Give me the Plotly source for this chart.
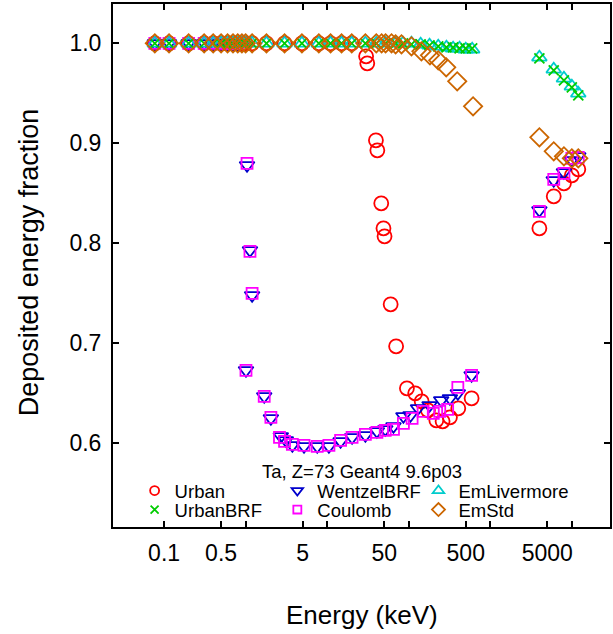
import plotly.graph_objects as go

# ---------------- data ----------------
E_low = [0.077, 0.115, 0.2, 0.31, 0.4, 0.5, 0.6, 0.7, 0.8, 0.9, 1.0, 1.2,
         1.8, 3.0, 4.9, 7.9, 11, 15, 20]
E_high = [4000, 6000, 8000, 10000, 12000]

urban_E = E_low + [30, 31, 39.6, 41.2, 46, 49, 50.5, 60, 70, 95, 120, 144, 172,
                   218, 260, 320, 405, 590] + E_high
urban_v = [1.0] * 19 + [0.987, 0.980, 0.903, 0.893, 0.840, 0.815, 0.807, 0.739,
                        0.697, 0.655, 0.650, 0.642, 0.633, 0.623, 0.622, 0.626,
                        0.635, 0.645] + [0.815, 0.847, 0.860, 0.868, 0.874]

urbanbrf_E = E_low + [29.4, 40, 52, 69, 85, 108, 140, 180, 230, 290, 350, 420,
                      500, 600] + E_high
urbanbrf_v = [1.0] * 19 + [1.0, 1.0, 1.0, 1.0, 1.0, 0.999, 0.999, 0.998, 0.997,
                           0.996, 0.996, 0.995, 0.995, 0.995] + \
             [0.985, 0.973, 0.963, 0.956, 0.948]

wentzel_E = [0.077, 0.115, 0.2, 0.31, 0.4, 0.5, 0.6, 0.7, 0.8,
             1.04, 1.13, 1.20, 1.01, 1.69, 2.04, 2.70, 3.11, 3.74, 5.2, 7.55,
             10.5, 14.6, 20.2, 29.4, 40.7, 51.5, 65, 86, 105, 130, 180, 250,
             320, 400, 590] + E_high
wentzel_v = [1.0] * 9 + [0.878, 0.793, 0.748, 0.673, 0.647, 0.625, 0.607,
                         0.603, 0.598, 0.597, 0.597, 0.597, 0.602, 0.606, 0.608,
                         0.612, 0.614, 0.617, 0.627, 0.628, 0.635, 0.638, 0.643,
                         0.645, 0.650, 0.668] + [0.833, 0.863, 0.871, 0.883, 0.887]

coulomb_E = [0.077, 0.115, 0.2, 0.31, 0.4, 0.5, 0.6, 0.7, 0.8,
             1.04, 1.13, 1.20, 1.01, 1.69, 2.04, 2.6, 3.0, 3.74, 5.2, 7.55,
             10.5, 14.6, 20.2, 29.4, 40.7, 51.5, 65, 86, 110, 150, 200, 240,
             300, 400, 590] + E_high
coulomb_v = [1.0] * 9 + [0.880, 0.792, 0.750, 0.673, 0.647, 0.626, 0.606,
                         0.602, 0.599, 0.598, 0.597, 0.598, 0.603, 0.606, 0.609,
                         0.611, 0.613, 0.614, 0.620, 0.625, 0.632, 0.630, 0.632,
                         0.634, 0.656, 0.668] + [0.832, 0.864, 0.870, 0.885, 0.886]

emliv_E = urbanbrf_E
emliv_v = [1.0] * 19 + [1.0, 1.0, 1.0, 1.0, 1.0, 1.0, 0.999, 0.998, 0.997,
                        0.996, 0.995, 0.995, 0.994, 0.994] + \
          [0.986, 0.974, 0.965, 0.957, 0.950]

emstd_E = E_low + [29.4, 40, 46.5, 52, 61.5, 69, 81.5, 108, 143, 182, 230, 288,
                   393, 615] + E_high
emstd_v = [1.0] * 19 + [1.0, 1.0, 1.0, 1.0, 1.0, 0.999, 0.999, 0.997, 0.992,
                        0.988, 0.983, 0.976, 0.962, 0.937] + \
          [0.906, 0.892, 0.887, 0.885, 0.885]

x_tickvals = [0.1, 0.5, 1, 5, 10, 50, 100, 500, 1000, 5000, 10000]
x_ticktext = ["0.1", "0.5", "", "5", "", "50", "", "500", "", "5000", ""]
y_tickvals = [0.6, 0.7, 0.8, 0.9, 1.0]

FONT = "Liberation Sans, Arial, sans-serif"
W, H = 613, 634
L, R, T, B = 113, 1, 4, 107
PW, PH = W - L - R, H - T - B


def px_x(px):
    return (px - L) / PW


def px_y(py):
    return (H - B - py) / PH


series = [
    # name, E, v, symbol, color, size, legend id, text x px, row y px, legend size
    ("Urban", urban_E, urban_v, "circle-open", "#FF0000", 14, "legend", 176.7, 491.0, 9),
    ("WentzelBRF", wentzel_E, wentzel_v, "triangle-down-open", "#0000CC", 13, "legend2", 320, 491.0, 10),
    ("Coulomb", coulomb_E, coulomb_v, "square-open", "#FF00FF", 11, "legend3", 320, 510.0, 8),
    ("EmLivermore", emliv_E, emliv_v, "triangle-up-open", "#00CCCC", 13, "legend4", 461.7, 491.0, 10),
    ("UrbanBRF", urbanbrf_E, urbanbrf_v, "x-thin-open", "#00CC00", 10, "legend5", 176.7, 510.0, 8),
    ("EmStd", emstd_E, emstd_v, "diamond-open", "#CC6600", 14, "legend6", 461.7, 510.0, 10),
]

fig = go.Figure()
legend_layouts = {}
for name, E, v, sym, col, size, lg, tx, ty, lsize in series:
    fig.add_trace(go.Scatter(
        x=E, y=v, mode="markers", name=name, showlegend=False,
        marker=dict(symbol=sym, size=size, color=col,
                    line=dict(color=col, width=1.8)),
    ))
    # legend entry with smaller symbol (no data points)
    fig.add_trace(go.Scatter(
        x=[None], y=[None], mode="markers", name=name, legend=lg,
        showlegend=True,
        marker=dict(symbol=sym, size=lsize, color=col,
                    line=dict(color=col, width=1.8)),
    ))
    legend_layouts[lg] = dict(
        x=px_x(tx - 42), y=px_y(ty), xanchor="left", yanchor="middle",
        bgcolor="rgba(0,0,0,0)", borderwidth=0, itemsizing="trace",
        font=dict(family=FONT, size=18.5, color="black"),
    )

fig.update_layout(
    width=W, height=H,
    margin=dict(l=L, r=R, t=T, b=B, pad=0),
    paper_bgcolor="white", plot_bgcolor="white",
    font=dict(family=FONT, color="black"),
    showlegend=True,
    **legend_layouts,
    xaxis=dict(
        type="log", range=[-1.6265, 4.468],
        tickvals=x_tickvals, ticktext=x_ticktext,
        ticks="inside", ticklen=6, tickwidth=1.5, tickcolor="black",
        showline=True, linewidth=2, linecolor="black", mirror="ticks",
        showgrid=False, zeroline=False,
        tickfont=dict(family=FONT, size=23, color="black"),
        ticklabelstandoff=4,
    ),
    yaxis=dict(
        range=[0.5163, 1.0393],
        tickvals=y_tickvals, tickformat=".1f",
        ticks="inside", ticklen=6, tickwidth=1.5, tickcolor="black",
        showline=True, linewidth=2, linecolor="black", mirror="ticks",
        showgrid=False, zeroline=False,
        tickfont=dict(family=FONT, size=23, color="black"),
        ticklabelstandoff=5,
    ),
    annotations=[
        dict(text="Ta, Z=73 Geant4 9.6p03", xref="paper", yref="paper",
             x=px_x(362.5), y=px_y(471), xanchor="center", yanchor="middle",
             showarrow=False, font=dict(family=FONT, size=18.5, color="black")),
        dict(text="Deposited energy fraction", xref="paper", yref="paper",
             x=px_x(29), y=px_y(262), xanchor="center", yanchor="middle",
             textangle=-90, showarrow=False,
             font=dict(family=FONT, size=27, color="black")),
        dict(text="Energy (keV)", xref="paper", yref="paper",
             x=px_x(363), y=px_y(615), xanchor="center", yanchor="middle",
             showarrow=False, font=dict(family=FONT, size=26, color="black")),
    ],
)

fig.write_html("out.html",
               config={"displayModeBar": False},
               post_script="document.body.style.margin='0px';")
